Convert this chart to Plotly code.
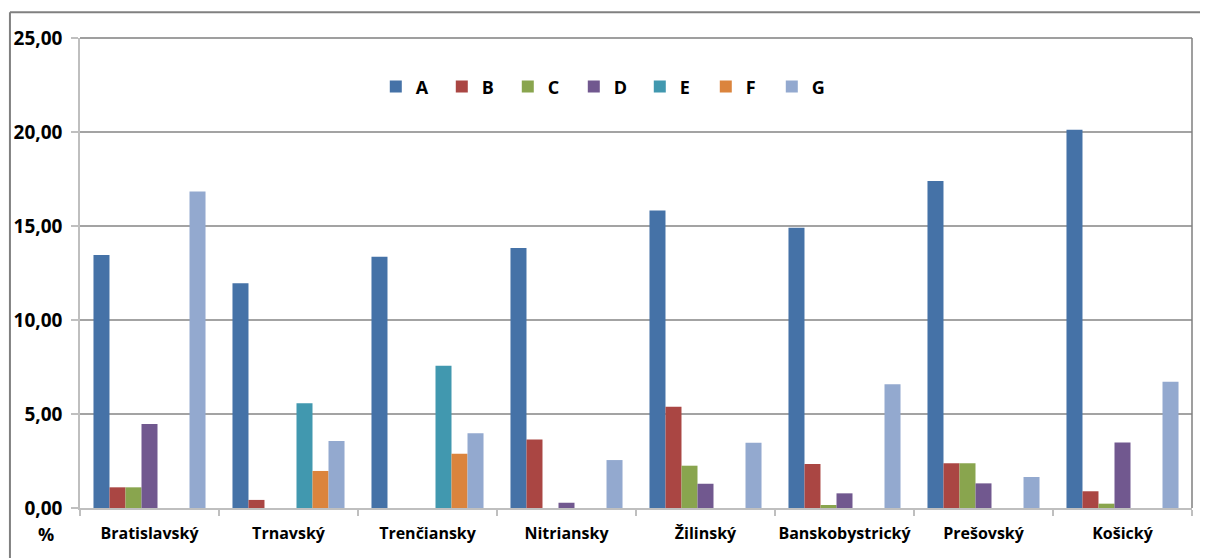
import plotly.graph_objects as go

regions = ["Bratislavský", "Trnavský", "Trenčiansky", "Nitriansky",
           "Žilinský", "Banskobystrický", "Prešovský", "Košický"]

A = [13.46, 11.95, 13.37, 13.83, 15.83, 14.91, 17.39, 20.12]
B = [1.10, 0.43, 0.0, 3.65, 5.39, 2.34, 2.38, 0.89]
C = [1.10, 0.0, 0.0, 0.0, 2.25, 0.16, 2.38, 0.23]
D = [4.47, 0.0, 0.0, 0.28, 1.29, 0.78, 1.31, 3.49]
E = [0.0, 5.57, 7.57, 0.0, 0.0, 0.0, 0.0, 0.0]
F = [0.0, 1.97, 2.89, 0.0, 0.0, 0.0, 0.0, 0.0]
G = [16.83, 3.56, 3.97, 2.55, 3.47, 6.58, 1.65, 6.72]

series_names = ["A", "B", "C", "D", "E", "F", "G"]
series_values = [A, B, C, D, E, F, G]
colors = ["#4572A7", "#AA4643", "#89A54E", "#71588F", "#4198AF", "#DB843D", "#93A9CF"]

y_ticks = [0, 5, 10, 15, 20, 25]

FONT = "Open Sans"

fig = go.Figure()
for name, vals, col in zip(series_names, series_values, colors):
    fig.add_trace(go.Bar(
        name=name, x=regions, y=vals,
        marker=dict(color=col, line=dict(width=0)),
    ))

# the page body has an 8px default margin, so the figure is 8px smaller
fig.update_layout(
    width=1200, height=550,
    margin=dict(l=72, r=16, t=30, b=50),
    paper_bgcolor="white", plot_bgcolor="white",
    barmode="group", bargap=0.194, bargroupgap=0,
    separators=",.",
    font=dict(family=FONT, color="black"),
    showlegend=True,
    legend=dict(
        orientation="h", x=0.266, xanchor="left", y=0.896, yanchor="middle",
        font=dict(family=FONT, size=18, color="black", weight="bold"),
        entrywidth=21, entrywidthmode="pixels", itemwidth=30,
        bgcolor="rgba(0,0,0,0)", traceorder="normal",
    ),
    xaxis=dict(
        showline=True, linecolor="#bfbfbf", linewidth=1.5,
        ticks="outside", ticklen=6, tickcolor="#bfbfbf", tickwidth=1.5,
        tickson="boundaries", showgrid=False, tickangle=0, automargin=False,
        tickfont=dict(family=FONT, size=16, color="black", weight="bold"),
        ticklabelstandoff=10,
    ),
    yaxis=dict(
        range=[0, 25], tickvals=y_ticks, tickformat=".2f", automargin=False,
        showline=True, linecolor="#bfbfbf", linewidth=1.5,
        ticks="outside", ticklen=7, tickcolor="#bfbfbf", tickwidth=1.5,
        showgrid=True, gridcolor="#a3a3a3", gridwidth=1.5,
        zeroline=False,
        tickfont=dict(family=FONT, size=19, color="black", weight="bold"),
        ticklabelstandoff=5,
    ),
    shapes=[
        # plot-area top and right border
        dict(type="line", xref="paper", yref="paper", x0=0, x1=1, y0=1, y1=1,
             line=dict(color="#7f7f7f", width=1.5)),
        dict(type="line", xref="paper", yref="paper", x0=1, x1=1, y0=0, y1=1,
             line=dict(color="#7f7f7f", width=1.5)),
        # outer chart frame (left and top)
        dict(type="line", xref="paper", yref="paper", x0=-0.063, x1=-0.063,
             y0=1.055, y1=-0.2, line=dict(color="#808080", width=2)),
        dict(type="line", xref="paper", yref="paper", x0=-0.063, x1=1.1,
             y0=1.055, y1=1.055, line=dict(color="#808080", width=2)),
    ],
    annotations=[
        dict(text="%", xref="paper", yref="paper", x=-0.0306, y=-0.055,
             xanchor="center", yanchor="middle", showarrow=False,
             font=dict(family=FONT, size=18, color="black", weight="bold")),
    ],
)

fig.write_html("out.html")
